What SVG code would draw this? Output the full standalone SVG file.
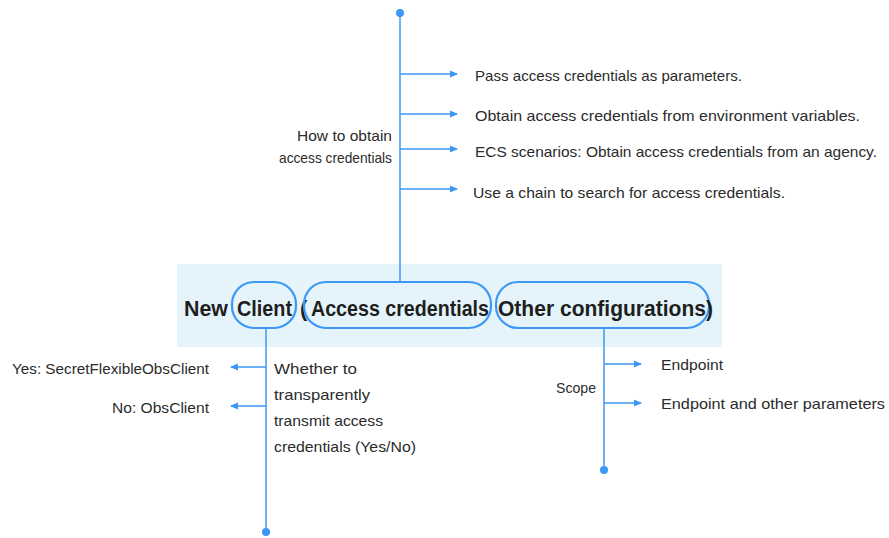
<svg xmlns="http://www.w3.org/2000/svg" width="889" height="538" viewBox="0 0 889 538">
<defs>
<marker id="ah" markerWidth="8" markerHeight="8" refX="7" refY="4" orient="auto" markerUnits="userSpaceOnUse">
<path d="M0,0.5 L8,4 L0,7.5 Z" fill="#3d97f5"/>
</marker>
<style>
.ln{stroke:#3d97f5;stroke-width:1.5;fill:none}
.ar{stroke:#3d97f5;stroke-width:1.5;fill:none;marker-end:url(#ah)}
.dot{fill:#3d97f5}
.t{font-family:"Liberation Sans",Arial,sans-serif;font-size:15px;fill:#2b2b2b}
.h{font-family:"Liberation Sans",Arial,sans-serif;font-size:22px;font-weight:bold;fill:#1e1e1e}
.pill{fill:none;stroke:#3d97f5;stroke-width:2.2}
</style>
</defs>
<rect width="889" height="538" fill="#ffffff"/>
<g id="band">
<rect x="177" y="264" width="545" height="83" fill="#e4f4fa"/>
</g>
<g id="connectors">
<line class="ln" x1="400" y1="13" x2="400" y2="282"/>
<circle class="dot" cx="400" cy="13" r="4"/>
<line class="ar" x1="400" y1="74" x2="457" y2="74"/>
<line class="ar" x1="400" y1="114" x2="457" y2="114"/>
<line class="ar" x1="400" y1="149" x2="457" y2="149"/>
<line class="ar" x1="400" y1="189" x2="457" y2="189"/>
<line class="ln" x1="266" y1="328" x2="266" y2="532"/>
<circle class="dot" cx="266" cy="532" r="4"/>
<line class="ar" x1="266" y1="367" x2="231" y2="367"/>
<line class="ar" x1="266" y1="406" x2="231" y2="406"/>
<line class="ln" x1="604" y1="328" x2="604" y2="470"/>
<circle class="dot" cx="604" cy="470" r="4"/>
<line class="ar" x1="604" y1="364" x2="641" y2="364"/>
<line class="ar" x1="604" y1="403" x2="641" y2="403"/>
</g>
<g id="main-node">
<text class="h" x="184" y="316" textLength="44" lengthAdjust="spacingAndGlyphs">New</text>
<rect class="pill" x="232" y="282" width="64" height="46" rx="22"/>
<text class="h" x="237" y="316" textLength="55" lengthAdjust="spacingAndGlyphs">Client</text>
<text class="h" x="300" y="316">(</text>
<rect class="pill" x="304" y="282" width="187" height="46" rx="22"/>
<text class="h" x="311" y="316" textLength="178" lengthAdjust="spacingAndGlyphs">Access credentials</text>
<rect class="pill" x="496" y="282" width="213" height="46" rx="22"/>
<text class="h" x="498" y="316" textLength="215" lengthAdjust="spacingAndGlyphs">Other configurations)</text>
</g>
<g id="credentials-methods">
<text class="t" x="392" y="141" text-anchor="end" textLength="95" lengthAdjust="spacingAndGlyphs">How to obtain</text>
<text class="t" x="392" y="163" text-anchor="end" textLength="113" lengthAdjust="spacingAndGlyphs">access credentials</text>
<text class="t" x="475" y="81" textLength="267" lengthAdjust="spacingAndGlyphs">Pass access credentials as parameters.</text>
<text class="t" x="475" y="121" textLength="385" lengthAdjust="spacingAndGlyphs">Obtain access credentials from environment variables.</text>
<text class="t" x="475" y="157" textLength="402" lengthAdjust="spacingAndGlyphs">ECS scenarios: Obtain access credentials from an agency.</text>
<text class="t" x="473" y="198" textLength="312" lengthAdjust="spacingAndGlyphs">Use a chain to search for access credentials.</text>
</g>
<g id="client-choice">
<text class="t" x="209" y="374" text-anchor="end" textLength="197" lengthAdjust="spacingAndGlyphs">Yes: SecretFlexibleObsClient</text>
<text class="t" x="209" y="413" text-anchor="end" textLength="97" lengthAdjust="spacingAndGlyphs">No: ObsClient</text>
<text class="t" x="274" y="374" textLength="83" lengthAdjust="spacingAndGlyphs">Whether to</text>
<text class="t" x="274" y="400" textLength="96" lengthAdjust="spacingAndGlyphs">transparently</text>
<text class="t" x="274" y="426" textLength="109" lengthAdjust="spacingAndGlyphs">transmit access</text>
<text class="t" x="274" y="452" textLength="142" lengthAdjust="spacingAndGlyphs">credentials (Yes/No)</text>
</g>
<g id="scope">
<text class="t" x="596" y="393" text-anchor="end" textLength="40" lengthAdjust="spacingAndGlyphs">Scope</text>
<text class="t" x="661" y="370" textLength="62" lengthAdjust="spacingAndGlyphs">Endpoint</text>
<text class="t" x="661" y="409" textLength="224" lengthAdjust="spacingAndGlyphs">Endpoint and other parameters</text>
</g>
</svg>
